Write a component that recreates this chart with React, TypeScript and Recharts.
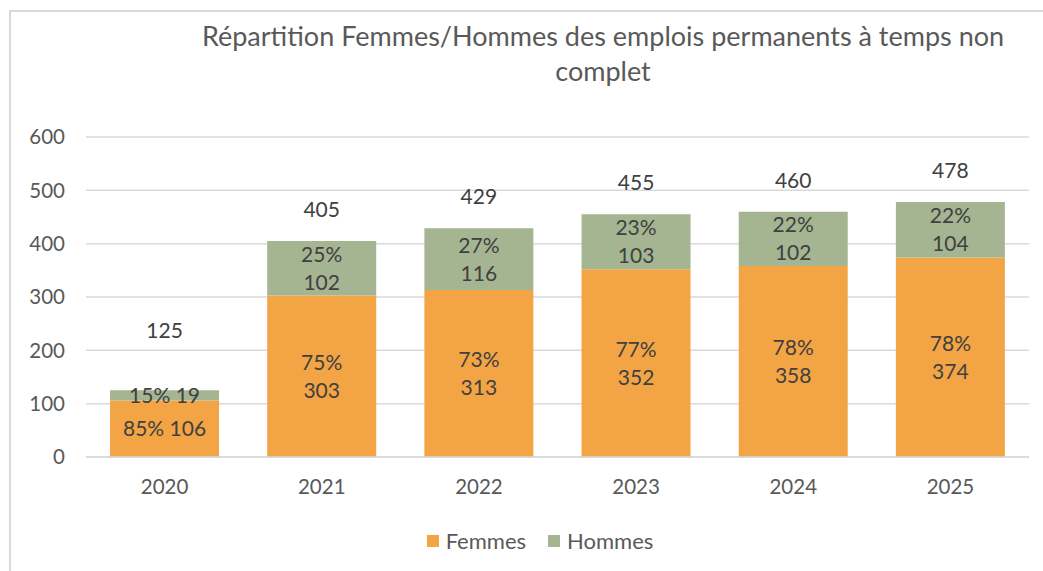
import React from 'react';
import { BarChart, Bar, XAxis, YAxis, CartesianGrid, LabelList } from 'recharts';

const years = ['2020', '2021', '2022', '2023', '2024', '2025'];
const femmes = [106, 303, 313, 352, 358, 374];
const hommes = [19, 102, 116, 103, 102, 104];
const yTicks = [0, 100, 200, 300, 400, 500, 600];
const seriesNames = ['Femmes', 'Hommes'];
const titleLines = ['Répartition Femmes/Hommes des emplois permanents à temps non', 'complet'];

const COLORS = { Femmes: '#F3A445', Hommes: '#A5B592' };
const FONT = 'Lato, "Open Sans", sans-serif';
const AXIS_COLOR = '#595959';
const LABEL_COLOR = '#404040';
const FS = 21;
const TICK_FS = 20.5;

const data = years.map((y, i) => ({
  year: y,
  Femmes: femmes[i],
  Hommes: hommes[i],
}));

const makeSegLabel = (arr: number[]) => (props: any) => {
  const { x, y, width, height, index } = props;
  const total = femmes[index] + hommes[index];
  const pct = Math.round((arr[index] / total) * 100) + '%';
  const cx = Number(x) + Number(width) / 2;
  const cy = Number(y) + Number(height) / 2;
  const base = FS * 0.36;
  if (index === 0) {
    return (
      <text x={cx} y={cy + base} textAnchor="middle" fill={LABEL_COLOR} fontSize={FS} fontFamily={FONT}>
        {pct} {arr[index]}
      </text>
    );
  }
  return (
    <text textAnchor="middle" fill={LABEL_COLOR} fontSize={FS} fontFamily={FONT}>
      <tspan x={cx} y={cy - 14 + base}>{pct}</tspan>
      <tspan x={cx} y={cy + 14 + base}>{arr[index]}</tspan>
    </text>
  );
};

const totalLabel = (props: any) => {
  const { x, y, width, index } = props;
  const total = femmes[index] + hommes[index];
  const cx = Number(x) + Number(width) / 2;
  const off = index === 0 ? 59.5 : 31.5;
  return (
    <text x={cx} y={Number(y) - off + FS * 0.36} textAnchor="middle" fill={LABEL_COLOR} fontSize={FS} fontFamily={FONT}>
      {total}
    </text>
  );
};

export default function App() {
  return (
    <div style={{ position: 'absolute', left: 0, top: 0, width: 1043, height: 571, background: '#fff', overflow: 'hidden', fontFamily: FONT }}>
      <div style={{ position: 'absolute', left: 9, top: 10, width: 1100, height: 700, borderLeft: '2px solid #d9d9d9', borderTop: '2px solid #d9d9d9' }} />
      <div style={{ position: 'absolute', left: 0, top: 18, width: 1206, textAlign: 'center', color: AXIS_COLOR, fontSize: 27, lineHeight: '35px' }}>
        {titleLines.map((t) => (
          <div key={t}>{t}</div>
        ))}
      </div>
      <div style={{ position: 'absolute', left: 0, top: 0 }}>
        <BarChart width={1043} height={571} data={data} margin={{ top: 137, right: 14, bottom: 74, left: 0 }} barCategoryGap="15.3%">
          <CartesianGrid vertical={false} stroke="#d9d9d9" strokeWidth={1.5} />
          <XAxis
            dataKey="year"
            height={40}
            axisLine={{ stroke: '#d9d9d9', strokeWidth: 1.5 }}
            tickLine={false}
            tick={{ fill: AXIS_COLOR, fontSize: TICK_FS, fontFamily: FONT }}
            tickMargin={16}
          />
          <YAxis
            width={86}
            domain={[0, 600]}
            ticks={yTicks}
            axisLine={false}
            tickLine={false}
            tickMargin={15}
            tick={{ fill: AXIS_COLOR, fontSize: TICK_FS, fontFamily: FONT }}
          />
          <Bar dataKey="Femmes" stackId="a" fill={COLORS.Femmes} isAnimationActive={false}>
            <LabelList dataKey="Femmes" content={makeSegLabel(femmes)} />
          </Bar>
          <Bar dataKey="Hommes" stackId="a" fill={COLORS.Hommes} isAnimationActive={false}>
            <LabelList dataKey="Hommes" content={makeSegLabel(hommes)} />
            <LabelList dataKey="Hommes" content={totalLabel} />
          </Bar>
        </BarChart>
      </div>
      <div style={{ position: 'absolute', left: 0, top: 527, width: 1080, display: 'flex', justifyContent: 'center', color: AXIS_COLOR, fontSize: 22 }}>
        {seriesNames.map((n, i) => (
          <div key={n} style={{ display: 'flex', alignItems: 'center', marginLeft: i === 0 ? 0 : 22 }}>
            <span style={{ display: 'inline-block', width: 12, height: 12, background: (COLORS as any)[n], marginRight: 7 }} />
            <span style={{ lineHeight: '28px' }}>{n}</span>
          </div>
        ))}
      </div>
    </div>
  );
}
